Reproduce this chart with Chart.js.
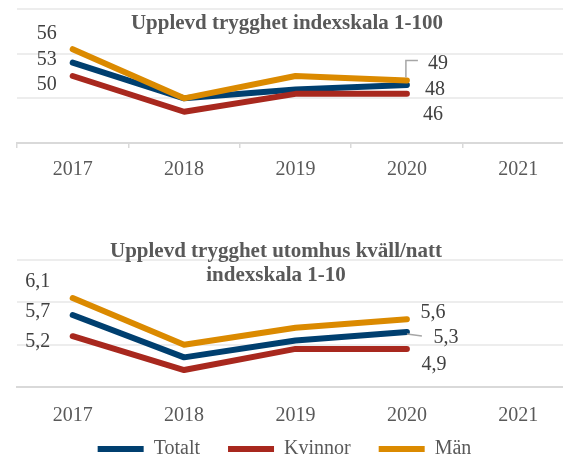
<!DOCTYPE html>
<html>
<head>
<meta charset="utf-8">
<script src="https://cdn.jsdelivr.net/npm/chart.js@4.4.0/dist/chart.umd.min.js"></script>
<style>
  html, body { margin: 0; padding: 0; background: #fff; overflow: hidden; width: 563px; height: 458px; }
  .box { position: absolute; left: 0; }
  .title {
    position: absolute; width: 400px; text-align: center;
    font: bold 21px "Liberation Serif", "Times New Roman", serif;
    line-height: 24px; color: #595959;
  }
</style>
</head>
<body>
<div class="box" style="top:0"><canvas id="topChart" width="576" height="200"></canvas></div>
<div class="box" style="top:228px"><canvas id="bottomChart" width="576" height="275"></canvas></div>
<div class="title" style="left:87px; top:10px">Upplevd trygghet indexskala 1-100</div>
<div class="title" style="left:76px; top:238px">Upplevd trygghet utomhus kväll/natt<br>indexskala 1-10</div>
<script>
// data
const years = ["2017", "2018", "2019", "2020", "2021"];
const seriesNames = ["Totalt", "Kvinnor", "Män"];
const colors = ["#003f6f", "#a8281e", "#db8a00"];

// indexskala 1-100
const trygghetTotalt = [53, 45, 47, 48, null];
const trygghetKvinnor = [50, 42, 46, 46, null];
const trygghetMan = [56, 45, 50, 49, null];

// utomhus kväll/natt, indexskala 1-10
const kvallTotalt = [5.7, 4.7, 5.1, 5.3, null];
const kvallKvinnor = [5.2, 4.4, 4.9, 4.9, null];
const kvallMan = [6.1, 5.0, 5.4, 5.6, null];

const serif = "'Liberation Serif', 'Times New Roman', serif";

// draws the value labels (and leader lines) next to chosen points
const valueLabels = {
  id: "valueLabels",
  afterDatasetsDraw(chart, args, opts) {
    const ctx = chart.ctx;
    ctx.save();
    ctx.font = "20px " + serif;
    ctx.fillStyle = "#404040";
    ctx.textAlign = "center";
    ctx.textBaseline = "middle";
    (opts.spots || []).forEach(s => {
      const el = chart.getDatasetMeta(s.ds).data[s.i];
      const v = chart.data.datasets[s.ds].data[s.i];
      if (!el || v == null) return;
      if (s.leader) {
        ctx.beginPath();
        ctx.strokeStyle = "#a6a6a6";
        ctx.lineWidth = 1.5;
        s.leader.forEach((p, k) => {
          k === 0 ? ctx.moveTo(el.x + p[0], el.y + p[1]) : ctx.lineTo(el.x + p[0], el.y + p[1]);
        });
        ctx.stroke();
      }
      ctx.fillText(opts.format(v), el.x + s.dx, el.y + s.dy);
    });
    ctx.restore();
  }
};

// pulls the legend up under the year labels (its padding also sets item spacing)
const legendNudge = {
  id: "legendNudge",
  afterLayout(chart, args, opts) {
    const lg = chart.legend;
    if (!lg || !opts.dy) return;
    lg.top += opts.dy; lg.bottom += opts.dy;
    lg.left += opts.dx; lg.right += opts.dx;
  }
};

function makeDatasets(values) {
  // Män drawn on top, legend kept in Totalt, Kvinnor, Män order
  const order = [2, 1, 0];
  return values.map((vals, k) => ({
    label: seriesNames[k],
    data: vals,
    borderColor: colors[k],
    backgroundColor: colors[k],
    borderWidth: 6,
    borderCapStyle: "round",
    borderJoinStyle: "round",
    pointRadius: 0,
    pointHoverRadius: 0,
    tension: 0,
    order: order[k]
  }));
}

function makeChart(id, values, yMin, yMax, opts) {
  return new Chart(document.getElementById(id), {
    type: "line",
    data: { labels: years, datasets: makeDatasets(values) },
    plugins: [valueLabels, legendNudge],
    options: {
      responsive: false,
      animation: false,
      layout: { padding: opts.padding },
      plugins: {
        title: { display: false },
        tooltip: { enabled: false },
        legend: opts.legend,
        legendNudge: opts.nudge || {},
        valueLabels: { spots: opts.spots, format: opts.format }
      },
      scales: {
        x: {
          offset: true,
          grid: {
            display: opts.xTicks,
            drawOnChartArea: false,
            drawTicks: opts.xTicks,
            tickLength: 5,
            offset: true,
            color: "#d9d9d9",
            lineWidth: 1.5
          },
          border: { display: true, color: "#d9d9d9", width: 2 },
          ticks: { color: "#595959", font: { family: serif, size: 20 }, padding: opts.tickPad }
        },
        y: {
          min: yMin,
          max: yMax,
          ticks: { display: false, stepSize: yMin < 10 ? 1 : 10 },
          grid: { color: "#ededed", lineWidth: 2, drawTicks: false },
          border: { display: false }
        }
      }
    }
  });
}

makeChart("topChart", [trygghetTotalt, trygghetKvinnor, trygghetMan], 35, 65, {
  padding: { left: 17, right: 2, top: 9, bottom: 8 },
  xTicks: true,
  tickPad: 10,
  legend: { display: false },
  format: v => String(v),
  spots: [
    { ds: 2, i: 0, dx: -26, dy: -15 },
    { ds: 0, i: 0, dx: -26, dy: -3 },
    { ds: 1, i: 0, dx: -26, dy: 9 },
    { ds: 2, i: 3, dx: 31, dy: -17, leader: [[-1, -3], [-1, -20], [11, -20]] },
    { ds: 0, i: 3, dx: 28, dy: 5 },
    { ds: 1, i: 3, dx: 26, dy: 21 }
  ]
});

makeChart("bottomChart", [kvallTotalt, kvallKvinnor, kvallMan], 4, 7, {
  padding: { left: 17, right: 2, top: 32, bottom: 0 },
  xTicks: false,
  tickPad: 17,
  nudge: { dx: -11, dy: -34 },
  legend: {
    display: true,
    position: "bottom",
    labels: {
      usePointStyle: true,
      pointStyle: "line",
      pointStyleWidth: 46,
      padding: 28,
      color: "#595959",
      font: { family: serif, size: 20 },
      sort: (a, b) => a.datasetIndex - b.datasetIndex
    }
  },
  format: v => v.toFixed(1).replace(".", ","),
  spots: [
    { ds: 2, i: 0, dx: -35, dy: -16 },
    { ds: 0, i: 0, dx: -35, dy: -3 },
    { ds: 1, i: 0, dx: -35, dy: 6 },
    { ds: 2, i: 3, dx: 26, dy: -7 },
    { ds: 0, i: 3, dx: 39, dy: 6, leader: [[0, 2], [15, 4]] },
    { ds: 1, i: 3, dx: 27, dy: 16 }
  ]
});
</script>
</body>
</html>
